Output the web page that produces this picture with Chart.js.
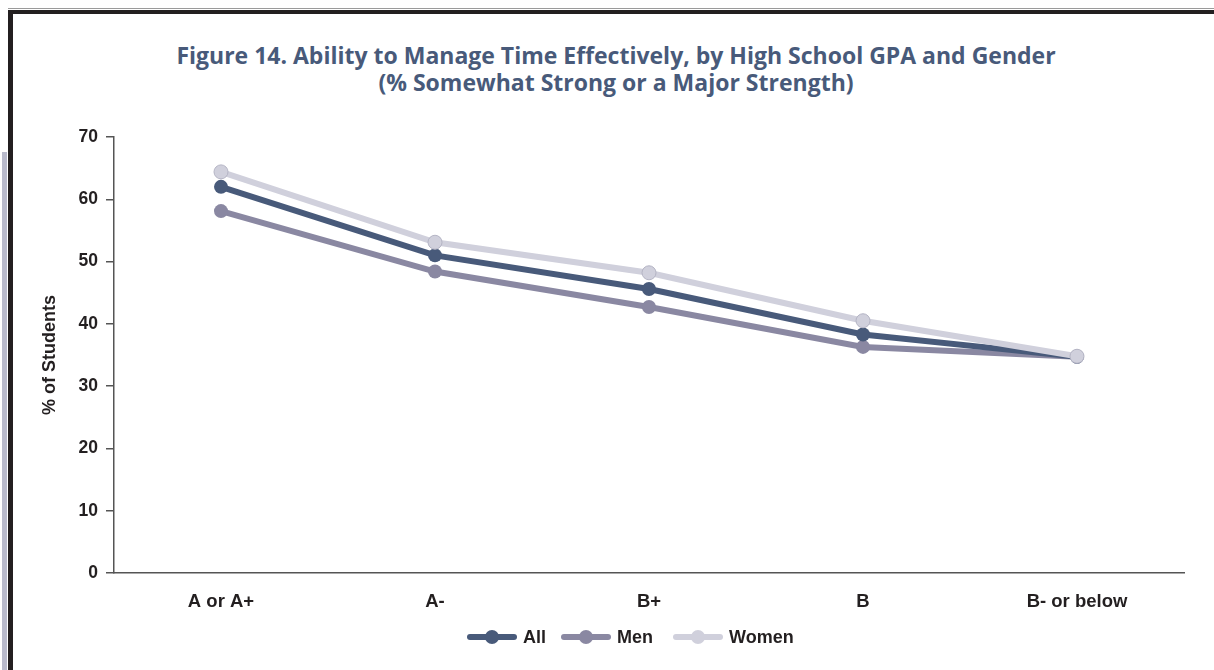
<!DOCTYPE html>
<html>
<head>
<meta charset="utf-8">
<script src="https://cdn.jsdelivr.net/npm/chart.js@4"></script>
<style>
  html, body { margin: 0; padding: 0; background: #fff; }
  body { width: 1214px; height: 670px; position: relative; overflow: hidden; font-family: "Liberation Sans", Arial, sans-serif; }
  .frame-top-thin { position: absolute; left: 8px; top: 8px; right: 0; height: 1px; background: #9a9a9a; }
  .frame-top { position: absolute; left: 8px; top: 10px; right: 0; height: 4px; background: #231f20; }
  .frame-left { position: absolute; left: 8px; top: 10px; width: 5px; bottom: 0; background: #231f20; }
  .side-strip { position: absolute; left: 2px; top: 152px; width: 5px; bottom: 0; background: #b9bacb; }
  .title { position: absolute; left: 0; width: 1232px; top: 42px; text-align: center; font-family: "Open Sans", sans-serif; font-weight: 700; font-size: 23px; line-height: 27px; color: #485a7a; }
  #chart-wrap { position: absolute; left: 0; top: 0; width: 1214px; height: 670px; }
  .legend { position: absolute; top: 626px; left: 467px; display: flex; align-items: center; font-weight: 700; font-size: 18px; color: #231f20; }
  .legend-item { display: flex; align-items: center; margin-right: 15px; }
  .legend-item:nth-child(2) { margin-right: 20px; }
  .legend-swatch { position: relative; width: 50px; height: 22px; margin-right: 6px; }
  .legend-swatch .ln { position: absolute; left: 0; right: 0; top: 8px; height: 6px; border-radius: 3px; }
  .legend-swatch .dt { position: absolute; left: 18px; top: 4px; width: 14px; height: 14px; border-radius: 50%; }
</style>
</head>
<body>
<div class="frame-top-thin"></div>
<div class="frame-top"></div>
<div class="frame-left"></div>
<div class="side-strip"></div>
<div class="title">Figure 14. Ability to Manage Time Effectively, by High School GPA and Gender<br>(% Somewhat Strong or a Major Strength)</div>
<div id="chart-wrap"><canvas id="chart" width="1214" height="670"></canvas></div>
<div class="legend" id="legend"></div>
<script>
const categories = ['A or A+', 'A-', 'B+', 'B', 'B- or below'];
const allValues = [62.0, 51.0, 45.6, 38.3, 34.7];
const menValues = [58.1, 48.4, 42.7, 36.3, 34.7];
const womenValues = [64.4, 53.1, 48.2, 40.5, 34.8];
const yTicks = [0, 10, 20, 30, 40, 50, 60, 70];

const seriesNames = ['All', 'Men', 'Women'];
const seriesColors = ['#485a7a', '#8a88a2', '#d0d0dc'];
const seriesData = [allValues, menValues, womenValues];
const seriesOrder = [1, 2, 0];

const fontFamily = '"Liberation Sans", Arial, sans-serif';

const datasets = seriesNames.map((name, i) => ({
  label: name,
  data: seriesData[i],
  borderColor: seriesColors[i],
  backgroundColor: seriesColors[i],
  pointBackgroundColor: seriesColors[i],
  pointBorderColor: i === 2 ? '#b4b4c4' : seriesColors[i],
  pointBorderWidth: i === 2 ? 1 : 0,
  pointRadius: 7,
  borderWidth: 6,
  tension: 0,
  order: seriesOrder[i],
}));

new Chart(document.getElementById('chart'), {
  type: 'line',
  data: { labels: categories, datasets },
  options: {
    responsive: false,
    animation: false,
    layout: { padding: { left: 0, right: 30, top: 137, bottom: 37 } },
    plugins: { legend: { display: false }, title: { display: false }, tooltip: { enabled: false } },
    scales: {
      x: {
        offset: true,
        grid: { display: false, drawTicks: false },
        border: { display: true, color: '#555', width: 1.5 },
        ticks: { color: '#231f20', font: { family: fontFamily, weight: 'bold', size: 18.5 }, padding: 18, maxRotation: 0 },
        afterFit: s => { s.height = 60; },
      },
      y: {
        min: 0,
        max: 70,
        afterBuildTicks: s => { s.ticks = yTicks.map(v => ({ value: v })); },
        grid: { drawOnChartArea: false, drawTicks: true, tickLength: 8, color: '#555', lineWidth: 1.5 },
        border: { display: true, color: '#555', width: 1.5 },
        ticks: { color: '#231f20', font: { family: fontFamily, weight: 'bold', size: 17.5 }, padding: 8 },
        title: {
          display: true,
          text: '% of Students',
          color: '#231f20',
          font: { family: fontFamily, weight: 'bold', size: 18 },
          padding: { top: 39, bottom: 0 },
        },
        afterFit: s => { s.width = 114; },
      },
    },
  },
});

// legend as html
const legend = document.getElementById('legend');
seriesNames.forEach((name, i) => {
  const item = document.createElement('div');
  item.className = 'legend-item';
  item.innerHTML = `<div class="legend-swatch"><div class="ln" style="background:${seriesColors[i]}"></div><div class="dt" style="background:${seriesColors[i]}"></div></div><span>${name}</span>`;
  legend.appendChild(item);
});
</script>
</body>
</html>
